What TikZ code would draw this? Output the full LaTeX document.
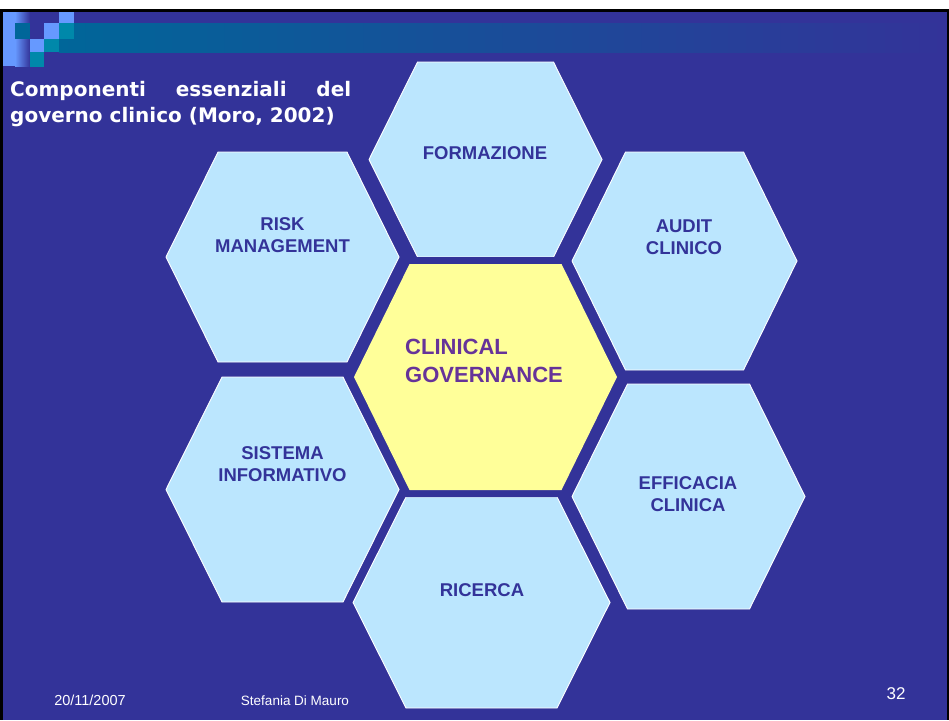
\documentclass[tikz,border=0pt]{standalone}
\usepackage{fontspec}
\setmainfont{Liberation Sans}
\newfontfamily\titlefont{DejaVu Sans}
\definecolor{slidebg}{HTML}{333399}
\definecolor{hexblue}{HTML}{BBE6FE}
\definecolor{hexyellow}{HTML}{FFFF99}
\definecolor{labelblue}{HTML}{333399}
\definecolor{centrepurple}{HTML}{663399}
\definecolor{logolight}{HTML}{6699FF}
\definecolor{logoteal}{HTML}{006699}
\definecolor{logocyan}{HTML}{0088AA}

% hexagon with pointed left/right ends: style, cx, cy, half width, half top edge, half height
\newcommand\hexpoly[6]{%
  \path[#1] (#2-#4,#3) -- (#2-#5,#3-#6) -- (#2+#5,#3-#6) -- (#2+#4,#3)
    -- (#2+#5,#3+#6) -- (#2-#5,#3+#6) -- cycle;}

\tikzset{
  outerhex/.style={fill=hexblue, draw=white, line width=0.9pt, line join=miter},
  corehexrim/.style={fill=slidebg, draw=slidebg, line width=14pt, line join=miter},
  corehex/.style={fill=hexyellow},
  hexlabel/.style={text=labelblue, font=\bfseries\fontsize{18.5}{22}\selectfont,
    align=center, inner sep=0pt},
  corelabel/.style={text=centrepurple, font=\bfseries\fontsize{22}{28}\selectfont,
    align=left, inner sep=0pt, anchor=west},
  titleline/.style={text=white, font=\titlefont\bfseries\fontsize{20}{26}\selectfont,
    inner sep=0pt, anchor=base west},
  footer/.style={text=white, font=\fontsize{13.5}{16}\selectfont, inner sep=0pt, anchor=base},
}

\begin{document}
\begin{tikzpicture}[x=1pt,y=-1pt]
\useasboundingbox (0,0) rectangle (949,720);

% slide frame and background
\fill[white] (0,0) rectangle (949,720);
\fill[slidebg] (0,12) rectangle (949,720);
\fill[black] (0,9) rectangle (949,12);
\fill[black] (0,9) rectangle (3,720);
\fill[black] (947,9) rectangle (949,720);

% header band
\shade[left color=logoteal, right color=slidebg] (59,23) rectangle (945,52);
\fill[logolight] (3,12) rectangle (15,66);
\shade[left color=logolight, right color=slidebg] (15,12) rectangle (30,66);

% header squares
\fill[logolight] (59,12) rectangle (74,23);
\fill[logoteal]  (15,23) rectangle (30,39);
\fill[logolight] (44,23) rectangle (59,39);
\fill[logocyan]  (59,23) rectangle (74,39);
\fill[logolight] (30,39) rectangle (44,52);
\fill[logocyan]  (44,39) rectangle (59,52);
\fill[logocyan]  (30,52) rectangle (44,67);

% title
\node[titleline] (title1) at (10,96) {\makebox[341pt][s]{Componenti essenziali del}};
\node[titleline] (title2) at (10,122) {governo clinico (Moro, 2002)};

% outer hexagons
\hexpoly{outerhex}{485.5}{159.5}{116.5}{68}{97.5}
\hexpoly{outerhex}{282.5}{257}{116.5}{64.5}{105}
\hexpoly{outerhex}{684.5}{261}{112.5}{59}{109}
\hexpoly{outerhex}{282.5}{489.5}{116.5}{60.5}{112.5}
\hexpoly{outerhex}{688.5}{496.5}{116.5}{61}{112.5}
\hexpoly{outerhex}{481.5}{602.5}{128.5}{75.5}{105.5}

% central hexagon with its dark rim
\hexpoly{corehexrim}{485.5}{377}{131.5}{76}{113}
\hexpoly{corehex}{485.5}{377}{131.5}{76}{113}

% labels
\node[hexlabel] (formazione) at (485,153.5) {FORMAZIONE};
\node[hexlabel] (risk) at (282.5,235) {RISK\\MANAGEMENT};
\node[hexlabel] (audit) at (684,237.5) {AUDIT\\CLINICO};
\node[hexlabel] (sistema) at (282.5,464) {SISTEMA\\INFORMATIVO};
\node[hexlabel] (efficacia) at (688,494) {EFFICACIA\\CLINICA};
\node[hexlabel] (ricerca) at (482,590.5) {RICERCA};
\node[corelabel] (governance) at (405,361) {CLINICAL\\GOVERNANCE};

% footer
\node[footer, font=\fontsize{14.5}{16}\selectfont] (date) at (90,705) {20/11/2007};
\node[footer] (author) at (295,705) {Stefania Di Mauro};
\node[footer, font=\fontsize{17}{19}\selectfont] (page) at (896,699) {32};
\end{tikzpicture}
\end{document}
